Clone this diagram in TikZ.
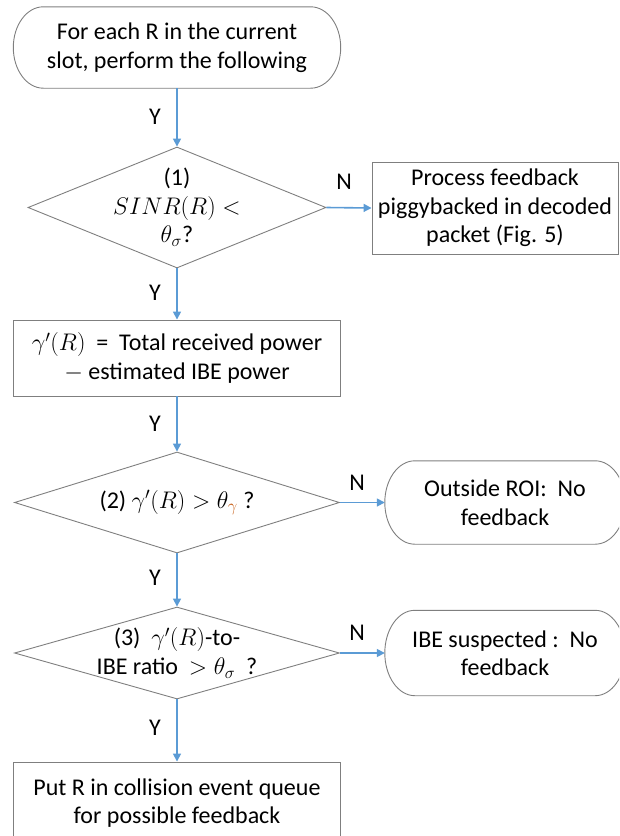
\documentclass[tikz,border=0pt]{standalone}
\usepackage{fix-cm}
\usepackage{fontspec}
\setmainfont{Carlito}
\usetikzlibrary{shapes.geometric,arrows.meta,calc}

\definecolor{edgegray}{HTML}{7F7F7F}
\definecolor{flowblue}{HTML}{5B9BD5}
\definecolor{subor}{HTML}{C55A11}

\tikzset{
  txt/.style={font=\fontsize{24}{28.5}\selectfont, align=center, text=black},
  shapeline/.style={draw=edgegray, line width=0.9pt},
  procbox/.style={shapeline, rectangle, inner sep=0pt},
  decision/.style={shapeline, diamond, inner sep=0pt},
  termbox/.style={rectangle, inner sep=0pt},
  flow/.style={draw=flowblue, line width=1.6pt, -{Triangle[length=8pt,width=8pt]}},
  lbl/.style={txt, inner sep=0pt}
}

% outline of a terminator: straight top and bottom, half-ellipse ends
\newcommand\termrx{30pt}
\newcommand\termoutline[1]{%
  \draw[shapeline] let \p1=(#1.north west), \p2=(#1.south east), \n1={(\y1-\y2)/2} in
    ([xshift=\termrx]#1.north west) -- ([xshift=-\termrx]#1.north east)
    arc[start angle=90, end angle=-90, x radius=\termrx, y radius=\n1]
    -- ([xshift=\termrx]#1.south west)
    arc[start angle=270, end angle=90, x radius=\termrx, y radius=\n1] -- cycle;}

\begin{document}
\begin{tikzpicture}[x=1pt, y=1pt]
  \clip (0,0) rectangle (619,-836);

  % start terminator
  \node[termbox, minimum width=327pt, minimum height=81pt] (start) at (177,-47.5) {};
  \termoutline{start}
  \node[txt] at (start.center) {For each R in the current\\slot, perform the following};

  % decision (1)
  \node[decision, minimum width=298pt, minimum height=121pt] (d1) at (177,-207.5) {};
  \node[txt] at (d1.center) {(1)\\$SINR(R) <$\\$\theta_\sigma$?};

  % piggybacked feedback box
  \node[procbox, minimum width=246pt, minimum height=92pt] (pig) at (495,-208) {};
  \node[txt] at (pig.center) {Process feedback\\piggybacked in decoded\\packet (Fig. 5)};

  % power estimate box
  \node[procbox, minimum width=327pt, minimum height=76pt] (pow) at (177,-358) {};
  \node[txt] at (pow.center) {$\gamma'(R)$~ =~~Total received power\\$-$~estimated IBE power};

  % decision (2)
  \node[decision, minimum width=325pt, minimum height=101pt] (d2) at (177,-502.5) {};
  \node[txt] at (d2.center) {(2) $\gamma'(R) > \theta_{\textcolor{subor}{\gamma}}$ ?};

  % outside ROI terminator
  \node[termbox, minimum width=240pt, minimum height=83pt] (roi) at (505,-502.5) {};
  \termoutline{roi}
  \node[txt] at (roi.center) {Outside ROI:~~No\\feedback};

  % decision (3)
  \node[decision, minimum width=325pt, minimum height=92pt] (d3) at (177,-653) {};
  \node[txt] at (d3.center) {(3)~~$\gamma'(R)$-to-\\IBE ratio~~$> \theta_\sigma$~~?};

  % IBE suspected terminator
  \node[termbox, minimum width=240pt, minimum height=85pt] (ibe) at (505,-653) {};
  \termoutline{ibe}
  \node[txt] at (ibe.center) {IBE suspected~:~~No\\feedback};

  % collision queue box
  \node[procbox, minimum width=327pt, minimum height=90pt] (queue) at (177,-807) {};
  \node[txt] at (177,-803) {Put R in collision event queue\\for possible feedback};

  % connectors
  \draw[flow] (start.south) -- (d1.north);
  \draw[flow] (d1.east) -- (pig.west);
  \draw[flow] (d1.south) -- (pow.north);
  \draw[flow] (pow.south) -- (d2.north);
  \draw[flow] (d2.east) -- (roi.west);
  \draw[flow] (d2.south) -- (d3.north);
  \draw[flow] (d3.east) -- (ibe.west);
  \draw[flow] (d3.south) -- (queue.north);

  % branch labels
  \node[lbl] (y1) at (155,-117) {Y};
  \node[lbl] (y2) at (155,-293) {Y};
  \node[lbl] (y3) at (155,-424) {Y};
  \node[lbl] (y4) at (155,-578) {Y};
  \node[lbl] (y5) at (155,-728) {Y};
  \node[lbl] (n1) at (344,-182) {N};
  \node[lbl] (n2) at (357,-483) {N};
  \node[lbl] (n3) at (357,-633) {N};
\end{tikzpicture}
\end{document}
